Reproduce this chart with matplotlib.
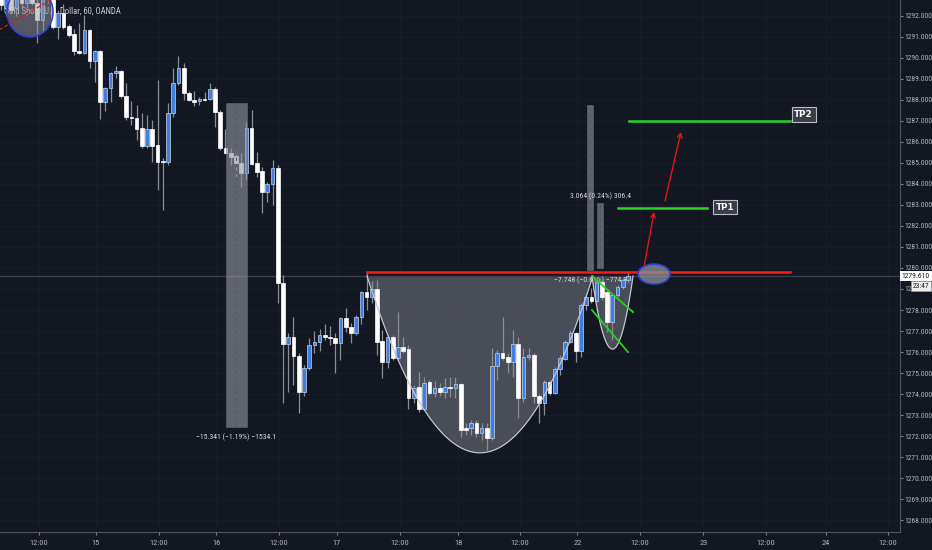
import numpy as np
import matplotlib
matplotlib.use('Agg')
from matplotlib import pyplot as plt
from matplotlib import transforms
from matplotlib.patches import Ellipse, Rectangle

BG = '#131722'
UP = '#3d7fe3'
DOWN = '#ffffff'
WICK = '#8a8d96'
TXT = '#b2b5be'
NARROW = ['Roboto Condensed', 'Liberation Sans Narrow', 'Liberation Sans', 'DejaVu Sans']

# hourly candles, XAUUSD 60m
opens = [1292.90, 1292.40, 1292.80, 1292.38, 1293.00, 1292.60, 1292.90, 1292.62, 1291.81, 1292.80,
         1292.90, 1291.48, 1292.14, 1291.52, 1291.14, 1290.33, 1290.24, 1291.33, 1289.86, 1290.33,
         1287.90, 1288.57, 1289.29, 1289.38, 1288.19, 1287.19, 1287.14, 1286.67, 1285.81, 1286.62,
         1285.86, 1285.10, 1285.05, 1287.38, 1288.81, 1289.52, 1288.33, 1288.00, 1287.95, 1288.05,
         1288.05, 1288.52, 1287.43, 1285.71, 1285.48, 1285.33, 1285.00, 1284.52, 1286.67, 1285.00,
         1284.62, 1283.62, 1284.00, 1284.76, 1279.29, 1276.38, 1276.71, 1275.81, 1274.10, 1275.24,
         1276.33, 1276.48, 1276.81, 1276.71, 1276.67, 1276.43, 1277.62, 1277.19, 1276.90, 1277.67,
         1278.86, 1278.62, 1279.00, 1276.52, 1275.52, 1276.71, 1275.71, 1276.24, 1276.14, 1273.81,
         1274.33, 1273.29, 1274.57, 1274.05, 1274.29, 1274.10, 1274.33, 1274.29, 1274.48, 1272.38,
         1272.38, 1272.62, 1272.14, 1272.38, 1271.90, 1275.33, 1275.95, 1275.76, 1275.52, 1276.38,
         1273.81, 1275.76, 1275.86, 1273.90, 1273.57, 1274.57, 1274.05, 1275.19, 1275.67, 1276.48,
         1276.90, 1276.05, 1278.24, 1278.62, 1278.43, 1279.33, 1278.86, 1277.43, 1278.71, 1279.10,
         1279.43]
highs = [1293.20, 1293.00, 1293.10, 1293.20, 1293.30, 1293.40, 1293.10, 1292.90, 1293.20, 1293.40,
         1293.10, 1292.29, 1292.57, 1291.60, 1291.38, 1291.67, 1292.05, 1291.40, 1290.40, 1290.40,
         1288.60, 1289.33, 1289.62, 1289.45, 1288.81, 1287.95, 1287.76, 1287.38, 1287.29, 1287.05,
         1288.95, 1285.24, 1287.86, 1289.52, 1290.10, 1289.76, 1288.43, 1288.43, 1288.14, 1288.38,
         1288.81, 1288.60, 1287.50, 1286.62, 1285.71, 1285.62, 1285.48, 1286.95, 1287.52, 1285.52,
         1284.81, 1284.10, 1285.14, 1284.90, 1279.67, 1276.90, 1277.67, 1275.95, 1275.38, 1276.67,
         1277.00, 1277.10, 1277.33, 1277.24, 1276.90, 1277.67, 1278.10, 1277.38, 1277.75, 1278.90,
         1279.81, 1279.38, 1279.43, 1277.05, 1276.81, 1276.80, 1277.90, 1276.71, 1276.33, 1274.43,
         1275.05, 1274.81, 1274.67, 1274.62, 1274.52, 1274.76, 1274.81, 1274.81, 1274.52, 1272.62,
         1272.76, 1272.76, 1272.62, 1272.62, 1276.19, 1276.10, 1277.67, 1275.95, 1277.05, 1276.71,
         1276.19, 1276.19, 1275.95, 1274.00, 1274.67, 1274.67, 1275.29, 1275.86, 1276.57, 1277.05,
         1276.95, 1278.33, 1278.81, 1279.05, 1279.52, 1279.43, 1278.95, 1278.81, 1279.20, 1279.52,
         1279.81]
lows = [1292.30, 1292.00, 1292.10, 1292.00, 1292.40, 1292.40, 1292.50, 1290.71, 1291.24, 1292.60,
        1291.40, 1290.90, 1291.40, 1291.00, 1290.14, 1290.20, 1290.20, 1289.52, 1288.86, 1287.10,
        1287.48, 1287.90, 1289.05, 1288.10, 1287.05, 1286.81, 1286.10, 1285.71, 1285.71, 1285.05,
        1283.71, 1282.76, 1284.90, 1287.19, 1288.71, 1288.00, 1287.95, 1287.71, 1287.76, 1287.95,
        1288.00, 1286.71, 1285.62, 1285.43, 1284.90, 1284.33, 1283.86, 1284.19, 1284.90, 1284.33,
        1282.62, 1283.14, 1283.00, 1278.33, 1273.57, 1274.10, 1274.43, 1273.10, 1273.90, 1275.14,
        1275.95, 1276.05, 1276.57, 1276.33, 1275.00, 1275.62, 1276.95, 1276.43, 1276.81, 1277.33,
        1278.00, 1278.33, 1275.86, 1274.76, 1275.24, 1275.62, 1275.62, 1275.95, 1273.29, 1273.57,
        1273.14, 1273.24, 1273.95, 1273.86, 1273.90, 1273.81, 1273.86, 1273.81, 1271.95, 1272.05,
        1272.05, 1271.95, 1271.81, 1271.33, 1271.81, 1274.67, 1275.62, 1275.00, 1274.81, 1272.86,
        1273.62, 1275.62, 1273.57, 1272.62, 1273.00, 1273.95, 1274.00, 1274.90, 1275.62, 1276.43,
        1275.52, 1275.76, 1278.00, 1278.33, 1278.38, 1278.48, 1276.95, 1276.57, 1278.62, 1279.00,
        1279.29]
closes = [1292.50, 1292.80, 1292.30, 1292.90, 1292.60, 1293.10, 1292.62, 1291.81, 1292.90, 1293.20,
          1291.48, 1292.14, 1291.48, 1291.10, 1290.33, 1290.24, 1291.33, 1289.86, 1290.33, 1287.90,
          1288.57, 1289.29, 1289.38, 1288.19, 1287.19, 1287.14, 1286.62, 1285.81, 1286.62, 1285.81,
          1285.05, 1285.05, 1287.38, 1288.81, 1289.52, 1288.33, 1288.00, 1287.90, 1288.05, 1288.00,
          1288.52, 1287.43, 1285.71, 1285.48, 1285.29, 1285.00, 1284.52, 1286.67, 1284.95, 1284.57,
          1283.62, 1284.00, 1284.76, 1279.29, 1276.38, 1276.71, 1275.81, 1274.10, 1275.24, 1276.33,
          1276.48, 1276.81, 1276.71, 1276.67, 1276.43, 1277.62, 1277.19, 1276.90, 1277.67, 1278.86,
          1278.62, 1279.00, 1276.48, 1275.52, 1276.71, 1275.71, 1276.24, 1276.05, 1273.81, 1274.29,
          1273.29, 1274.52, 1274.05, 1274.29, 1274.10, 1274.33, 1274.29, 1274.48, 1272.29, 1272.29,
          1272.62, 1272.14, 1272.38, 1271.90, 1275.33, 1275.95, 1275.71, 1275.52, 1276.38, 1273.81,
          1275.76, 1275.86, 1273.90, 1273.57, 1274.57, 1274.05, 1275.19, 1275.71, 1276.48, 1276.90,
          1276.05, 1278.24, 1278.62, 1278.43, 1279.33, 1278.62, 1277.43, 1278.71, 1279.10, 1279.43,
          1279.61]

last_price = 1279.61
tick_pos = [7.3, 18.2, 30.3, 41.2, 53.2, 64.3, 76.4, 87.5, 99.3, 110.3, 122.3, 134.4, 146.4, 157.9, 169.7]
tick_lab = ['12:00', '15', '12:00', '16', '12:00', '17', '12:00', '18', '12:00', '22',
            '12:00', '23', '12:00', '24', '12:00']
price_ticks = np.arange(1268, 1293)

# drawings (bar index, price)
neck = 1279.81
cup = (70.07, 113.3, 1279.62, 1271.2)       # left, right, top, bottom
handle = (113.1, 120.96, 1279.62, 1276.14)
range1 = (43.1, 47.1, 1272.43, 1287.86, '\u221215.341 (\u22121.19%) \u22121534.1')
range2 = (112.2, 113.3, 1279.90, 1287.76, '\u22127.748 (\u22120.61%) \u2212774.8')
range3 = (114.1, 115.2, 1280.00, 1283.10, '3.064 (0.24%) 306.4')
tp1 = (118.1, 135.1, 1282.86)
tp2 = (120.2, 151.0, 1287.0)


fig = plt.figure(figsize=(9.32, 5.5), dpi=100, facecolor=BG)
ax = fig.add_axes([0, 18 / 550, 900 / 932, 532 / 550])
ax.set_facecolor(BG)

x = np.arange(len(opens))
o = np.array(opens)
c = np.array(closes)
up = c >= o
ax.vlines(x, lows, highs, color=WICK, lw=0.9, zorder=3)
body = np.maximum(np.abs(c - o), 0.06)
ax.bar(x[up], body[up], bottom=np.minimum(o, c)[up], width=0.7, color=UP,
       edgecolor='#c9d3e6', linewidth=0.5, zorder=4)
ax.bar(x[~up], body[~up], bottom=np.minimum(o, c)[~up], width=0.7, color=DOWN,
       edgecolor=DOWN, linewidth=0.5, zorder=4)

# current price line
ax.axhline(last_price, color='#3a3e4a', lw=1, zorder=2)


def parabola(left, right, top, bottom, n=120):
    xs = np.linspace(left, right, n)
    mid = (left + right) / 2
    hw = (right - left) / 2
    ys = top - (top - bottom) * (1 - ((xs - mid) / hw) ** 2)
    return xs, ys


for shape in (cup, handle):
    xs, ys = parabola(*shape)
    ax.fill(xs, ys, color='#9598a1', alpha=0.42, lw=0, zorder=1.5)
    ax.plot(xs, ys, color='#c4c6cc', lw=0.9, zorder=5)

# price range boxes
for i, (x0, x1, p0, p1, lab) in enumerate((range1, range2, range3)):
    ax.add_patch(Rectangle((x0, p0), x1 - x0, p1 - p0, fc='#9598a1', alpha=0.6,
                           ec='#6a6d75', lw=0.6, zorder=6))
    ax.plot([(x0 + x1) / 2] * 2, [p0, p1], color='#55585f', lw=0.8, ls=(0, (3, 3)), zorder=6)
    ly = p0 - 0.5 if i < 2 else p1 + 0.33
    ax.text((x0 + x1) / 2, ly, lab, fontsize=5.6, color='#d1d4dc', ha='center', va='center',
            family=NARROW, zorder=2 if i == 1 else 7)

# neckline and targets
ax.plot([cup[0], 151.0], [neck, neck], color='#ff1a1a', lw=1.8, zorder=7)
ax.plot([113.3, 120.96], [1279.57, 1277.90], color='#21d321', lw=1.3, zorder=7)
ax.plot([113.1, 120.0], [1278.0, 1276.0], color='#21d321', lw=1.3, zorder=7)
for x0, x1, p in (tp1, tp2):
    ax.plot([x0, x1], [p, p], color='#27d427', lw=1.8, zorder=7)
box = dict(boxstyle='square,pad=0.3', fc='#3b3e47', ec='#b9bcc4', lw=0.8)
ax.text(138.6, 1282.9, 'TP1', fontsize=6.3, fontweight='bold', color='white',
        ha='center', va='center', bbox=box, zorder=8)
ax.text(153.6, 1287.31, 'TP2', fontsize=6.3, fontweight='bold', color='white',
        ha='center', va='center', bbox=box, zorder=8)

arrow = dict(arrowstyle='->', color='#e31515', lw=1.0, mutation_scale=8, shrinkA=0, shrinkB=0)
ax.annotate('', xy=(125.0, 1282.67), xytext=(123.07, 1280.05), arrowprops=arrow, zorder=8)
ax.annotate('', xy=(130.15, 1286.48), xytext=(127.08, 1283.19), arrowprops=arrow, zorder=8)

ax.add_patch(Ellipse((125.0, 1279.71), 6.1, 0.95, fc='#8e9199', alpha=0.75, ec='none', zorder=8))
ax.add_patch(Ellipse((125.0, 1279.71), 6.1, 0.95, fc='none', ec='#2f40d8', lw=1.2, zorder=8))
ax.add_patch(Ellipse((5.6, 1292.19), 8.8, 2.38, fc='#9598a1', alpha=0.5, ec='none', zorder=8))
ax.add_patch(Ellipse((5.6, 1292.19), 8.8, 2.38, fc='none', ec='#2f40d8', lw=1.2, zorder=8))
ax.plot([-0.5, 10.5], [1291.31, 1292.90], color='#e31515', lw=0.9, ls=(0, (3, 2)), zorder=8)

ax.text(4 / 900, 1 - 11 / 532, 'Gold Spot / U.S. Dollar, 60, OANDA', transform=ax.transAxes,
        fontsize=6.2, color='#c9ccd4', ha='left', va='center', family=NARROW, zorder=2)

ax.set_xlim(-0.14, 172.04)
ax.set_ylim(1267.43, 1292.76)
ax.set_xticks(tick_pos)
ax.set_xticklabels(tick_lab)
ax.set_yticks(price_ticks)
ax.set_yticklabels(['%.3f' % p for p in price_ticks])
ax.yaxis.tick_right()
ax.tick_params(axis='y', colors='#7c808b', labelcolor=TXT, labelsize=5.5, length=2, pad=1.2)
ax.tick_params(axis='x', colors='#7c808b', labelcolor=TXT, labelsize=6, length=2.5, pad=3)
for lab in ax.get_xticklabels() + ax.get_yticklabels():
    lab.set_family(NARROW)
ax.grid(True, color='#1a1e2b', lw=0.6)
ax.set_axisbelow(True)
for side in ('top', 'left'):
    ax.spines[side].set_visible(False)
for side in ('right', 'bottom'):
    ax.spines[side].set_color('#50535e')
    ax.spines[side].set_linewidth(0.8)

# last price tags on the scale
tr = transforms.blended_transform_factory(ax.transAxes, ax.transData)
ax.text(1.002, last_price, '1279.610', transform=tr, fontsize=5.5, color='#131722', family=NARROW,
        ha='left', va='center', clip_on=False, zorder=10,
        bbox=dict(boxstyle='square,pad=0.3', fc='#ffffff', ec='none'))
ax.text(1.014, last_price - 0.47, '23:47', transform=tr, fontsize=5.5, color='#131722', family=NARROW,
        ha='left', va='center', clip_on=False, zorder=10,
        bbox=dict(boxstyle='square,pad=0.25', fc='#f0f0f0', ec='#9a9a9a', lw=0.5))

fig.savefig('out.png', dpi=100, facecolor=BG)
